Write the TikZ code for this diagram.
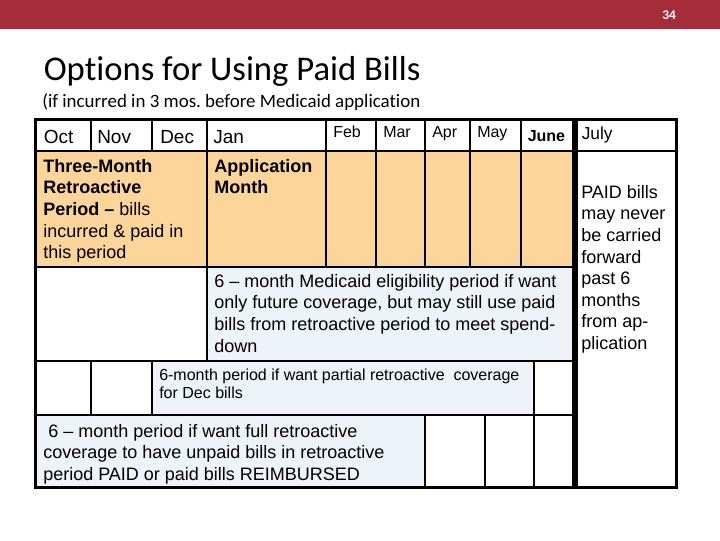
\documentclass[tikz,border=0pt]{standalone}
\usepackage{fontspec}
\setmainfont{Liberation Sans}
\newfontfamily\calibri[Ligatures=NoCommon]{Carlito}
\definecolor{barred}{RGB}{166,44,57}
\definecolor{orangecell}{RGB}{252,213,155}
\definecolor{bluecell}{RGB}{238,242,249}
\begin{document}
\frenchspacing
\begin{tikzpicture}[x=0.75pt,y=-0.75pt,
  gridline/.style={draw=black,line width=1.5pt},
  outer/.style={draw=black,line width=2.25pt},
  thickline/.style={draw=black,line width=4.5pt},
  mon/.style={inner sep=0pt,anchor=base west,font=\fontsize{14.25}{17}\selectfont},
  smon/.style={inner sep=0pt,anchor=base west,font=\fontsize{12}{14}\selectfont},
  txt/.style={inner sep=0pt,align=left,anchor=north west,font=\fontsize{13.5}{16.2}\selectfont},
  stxt/.style={inner sep=0pt,align=left,anchor=north west,font=\fontsize{12}{13.9}\selectfont},
 ]
\useasboundingbox (0,0) rectangle (720,540);
% top bar
\fill[barred] (0,0) rectangle (720,29);
\node[text=white,inner sep=0pt,font=\calibri\bfseries\fontsize{10}{11}\selectfont] (pg) at (669,15) {34};
% titles
\node[inner sep=0pt,anchor=base west,font=\calibri\fontsize{26}{30}\selectfont] (title) at (43.5,80) {Options for Using Paid Bills};
\node[inner sep=0pt,anchor=base west,font=\calibri\fontsize{14.2}{16}\selectfont] (sub) at (42,107.5) {(if incurred in 3 mos. before Medicaid application};
% fills
\fill[orangecell] (35,151) rectangle (575,267);
\fill[bluecell] (207,267) rectangle (575,361);
\fill[bluecell] (152,361) rectangle (534,415);
\fill[bluecell] (35,415) rectangle (425,487);
% horizontal lines
\draw[gridline] (35,151) -- (676,151);
\draw[gridline] (35,267) -- (575,267);
\draw[gridline] (35,361) -- (575,361);
\draw[gridline] (35,415) -- (575,415);
% vertical lines
\draw[gridline] (91,119) -- (91,151);
\draw[gridline] (152,119) -- (152,151);
\draw[gridline] (91,361) -- (91,415);
\draw[gridline] (152,361) -- (152,415);
\draw[gridline] (207,119) -- (207,361);
\draw[gridline] (326,119) -- (326,267);
\draw[gridline] (376,119) -- (376,267);
\draw[gridline] (425,119) -- (425,267);
\draw[gridline] (470,119) -- (470,267);
\draw[gridline] (521,119) -- (521,267);
\draw[gridline] (425,415) -- (425,487);
\draw[gridline] (485,415) -- (485,487);
\draw[gridline] (534,361) -- (534,487);
% outer border and separator
\draw[outer] (35,119) rectangle (676,487);
\draw[thickline] (575,118) -- (575,488);
% header texts
\node[mon] (oct) at (43.5,143) {Oct};
\node[mon] (nov) at (97,143) {Nov};
\node[mon] (dec) at (160,143) {Dec};
\node[mon] (jan) at (213,143) {Jan};
\node[smon] (feb) at (333,137) {Feb};
\node[smon] (mar) at (383,137) {Mar};
\node[smon] (apr) at (432,137) {Apr};
\node[smon] (may) at (477,137) {May};
\node[smon,font=\bfseries\fontsize{12}{14}\selectfont] (jun) at (527.5,141) {June};
\node[mon,font=\fontsize{13}{15}\selectfont] (jul) at (581.5,139) {July};
% cell texts
\node[txt] (retro) at (43,159) {\textbf{Three-Month}\\\textbf{Retroactive}\\\textbf{Period --} bills\\incurred \& paid in\\this period};
\node[txt] (appl) at (214,159) {\textbf{Application}\\\textbf{Month}};
\node[txt] (future) at (214,274) {6 -- month Medicaid eligibility period if want\\only future coverage, but may still use paid\\bills from retroactive period to meet spend-\\down};
\node[stxt] (partial) at (159,368.5) {6-month period if want partial retroactive\ \ coverage\\for Dec bills};
\node[txt] (full) at (43,424) {\hspace*{3.75pt}6 -- month period if want full retroactive\\coverage to have unpaid bills in retroactive\\period PAID or paid bills REIMBURSED};
\node[txt] (never) at (581,185) {PAID bills\\may never\\be carried\\forward\\past 6\\months\\from ap-\\plication};
\end{tikzpicture}
\end{document}
